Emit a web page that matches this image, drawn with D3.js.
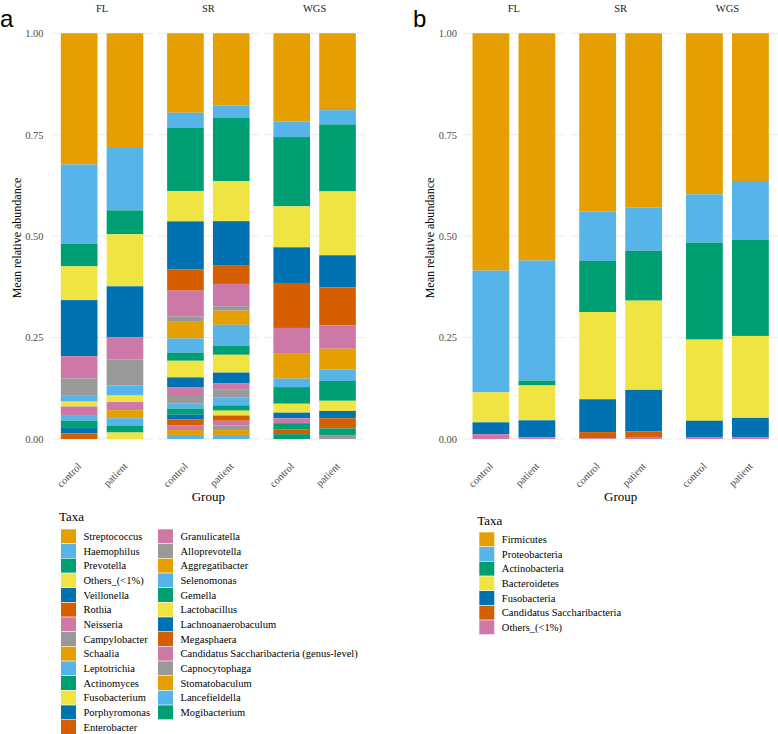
<!DOCTYPE html>
<html>
<head>
<meta charset="utf-8">
<script src="https://cdn.jsdelivr.net/npm/d3@7"></script>
<style>
body { margin: 0; background: #fff; }
svg text { font-family: "Liberation Serif", "DejaVu Serif", serif; }
svg text.tag { font-family: "Liberation Sans", "DejaVu Sans", sans-serif; }
</style>
</head>
<body>
<svg id="chart" width="778" height="734"></svg>
<script>
var facets = ["FL", "SR", "WGS"];
var groups = ["control", "patient"];
var yTicks = [0, 0.25, 0.5, 0.75, 1];
var palette = ["#E69F00", "#56B4E9", "#009E73", "#F0E442", "#0072B2", "#D55E00", "#CC79A7", "#999999"];

var genusTaxa = ["Streptococcus", "Haemophilus", "Prevotella", "Others_(<1%)", "Veillonella", "Rothia",
  "Neisseria", "Campylobacter", "Schaalia", "Leptotrichia", "Actinomyces", "Fusobacterium",
  "Porphyromonas", "Enterobacter", "Granulicatella", "Alloprevotella", "Aggregatibacter",
  "Selenomonas", "Gemella", "Lactobacillus", "Lachnoanaerobaculum", "Megasphaera",
  "Candidatus Saccharibacteria (genus-level)", "Capnocytophaga", "Stomatobaculum",
  "Lancefieldella", "Mogibacterium"];

// genus level, same order as genusTaxa
var genusFLcontrol  = [0.323, 0.195, 0.056, 0.083, 0.138, 0, 0.055, 0.041, 0, 0.016, 0, 0.012, 0, 0, 0.023, 0, 0, 0.012, 0.016, 0, 0.015, 0.014, 0, 0, 0, 0, 0];
var genusFLpatient  = [0.280, 0.156, 0.059, 0.128, 0.126, 0, 0.054, 0.064, 0, 0.025, 0, 0.016, 0, 0, 0.020, 0, 0.020, 0.019, 0.016, 0.016, 0, 0, 0, 0, 0, 0, 0];
var genusSRcontrol  = [0.196, 0.037, 0.156, 0.075, 0.118, 0.053, 0.064, 0.011, 0.043, 0.035, 0.020, 0.041, 0.025, 0, 0.021, 0.019, 0, 0.012, 0.015, 0, 0.012, 0.014, 0.012, 0, 0.012, 0.010, 0];
var genusSRpatient  = [0.178, 0.031, 0.156, 0.099, 0.110, 0.045, 0.055, 0.011, 0.035, 0.052, 0.022, 0.044, 0.026, 0, 0.015, 0.020, 0, 0.020, 0.013, 0.012, 0, 0.013, 0.012, 0.011, 0.012, 0.010, 0];
var genusWGScontrol = [0.218, 0.038, 0.171, 0.101, 0.088, 0.111, 0.062, 0, 0.063, 0.021, 0.041, 0.022, 0.014, 0, 0.012, 0, 0, 0, 0.015, 0, 0, 0.012, 0, 0, 0, 0, 0.012];
var genusWGSpatient = [0.189, 0.035, 0.165, 0.157, 0.079, 0.094, 0.057, 0, 0.051, 0.028, 0.049, 0.025, 0.018, 0.025, 0, 0, 0, 0, 0.016, 0, 0, 0, 0, 0.010, 0, 0, 0];

var phylumTaxa = ["Firmicutes", "Proteobacteria", "Actinobacteria", "Bacteroidetes", "Fusobacteria",
  "Candidatus Saccharibacteria", "Others_(<1%)"];

var phylumFLcontrol  = [0.585, 0.300, 0, 0.074, 0.029, 0, 0.012];
var phylumFLpatient  = [0.560, 0.296, 0.012, 0.086, 0.042, 0, 0.004];
var phylumSRcontrol  = [0.439, 0.122, 0.126, 0.215, 0.081, 0.015, 0.002];
var phylumSRpatient  = [0.429, 0.107, 0.123, 0.220, 0.102, 0.014, 0.005];
var phylumWGScontrol = [0.397, 0.119, 0.239, 0.200, 0.040, 0, 0.005];
var phylumWGSpatient = [0.364, 0.145, 0.237, 0.202, 0.047, 0, 0.005];

var genusBars = [["FL", "control", genusFLcontrol], ["FL", "patient", genusFLpatient],
  ["SR", "control", genusSRcontrol], ["SR", "patient", genusSRpatient],
  ["WGS", "control", genusWGScontrol], ["WGS", "patient", genusWGSpatient]];
var phylumBars = [["FL", "control", phylumFLcontrol], ["FL", "patient", phylumFLpatient],
  ["SR", "control", phylumSRcontrol], ["SR", "patient", phylumSRpatient],
  ["WGS", "control", phylumWGScontrol], ["WGS", "patient", phylumWGSpatient]];

function makeRows(taxa, bars) {
  return bars.map(function(b) {
    var r = { facet: b[0], group: b[1] };
    taxa.forEach(function(t, i) { r[t] = b[2][i]; });
    return r;
  });
}

var svg = d3.select("#chart");

function drawPanel(taxa, bars, o) {
  var rows = makeRows(taxa, bars);
  var color = d3.scaleOrdinal().domain(taxa).range(taxa.map(function(t, i) { return palette[i % 8]; }));
  var y = d3.scaleLinear().domain([0, 1]).range([439, 33.3]);
  var fx = d3.scaleBand().domain(facets).range([o.left, o.right]).paddingInner(0.052);
  var gx = d3.scalePoint().domain(groups).range([0, fx.bandwidth()]).padding(0.6);
  var bw = gx.step() * 0.8;
  var series = d3.stack().keys(taxa).order(d3.stackOrderReverse).offset(d3.stackOffsetExpand)(rows);

  var g = svg.append("g");

  // grid lines per facet
  facets.forEach(function(f) {
    g.selectAll(null).data(yTicks).enter().append("line")
      .attr("x1", fx(f)).attr("x2", fx(f) + fx.bandwidth())
      .attr("y1", y).attr("y2", y)
      .attr("stroke", "#ebebeb").attr("stroke-width", 1);
  });

  var ax = g.append("g").attr("transform", "translate(" + o.axisX + ",0)")
    .call(d3.axisLeft(y).tickValues(yTicks).tickFormat(d3.format(".2f")).tickSize(0).tickPadding(0));
  ax.attr("font-family", null).attr("font-size", null);
  ax.select(".domain").remove();
  ax.selectAll("text").attr("fill", "#4d4d4d").style("font-size", "10.5px");

  g.selectAll("g.layer").data(series).enter().append("g")
    .attr("class", "layer")
    .attr("fill", function(d) { return color(d.key); })
    .selectAll("rect").data(function(d) { return d; }).enter().append("rect")
    .attr("x", function(d) { return fx(d.data.facet) + gx(d.data.group) - bw / 2; })
    .attr("y", function(d) { return y(d[1]); })
    .attr("width", bw)
    .attr("height", function(d) { return y(d[0]) - y(d[1]); });

  // facet strip labels
  g.selectAll(null).data(facets).enter().append("text")
    .attr("x", function(f) { return fx(f) + fx.bandwidth() / 2; })
    .attr("y", 12)
    .attr("text-anchor", "middle")
    .attr("fill", "#1a1a1a")
    .style("font-size", "10.5px")
    .text(function(f) { return f; });

  // rotated group labels
  rows.forEach(function(r) {
    g.append("text")
      .attr("transform", "translate(" + (fx(r.facet) + gx(r.group) + 3) + ",467) rotate(-45)")
      .attr("text-anchor", "end")
      .attr("fill", "#4d4d4d")
      .style("font-size", "10.5px")
      .text(r.group);
  });

  g.append("text")
    .attr("x", (o.left + o.right) / 2).attr("y", 501)
    .attr("text-anchor", "middle")
    .style("font-size", "13px")
    .text("Group");

  g.append("text")
    .attr("transform", "translate(" + o.titleX + ",238) rotate(-90)")
    .attr("text-anchor", "middle")
    .attr("dy", "0.35em")
    .style("font-size", "12px")
    .text("Mean relative abundance");

  g.append("text")
    .attr("class", "tag")
    .attr("x", o.tagX).attr("y", 27)
    .style("font-size", "24px")
    .text(o.tag);

  // legend
  var lg = svg.append("g");
  lg.append("text").attr("x", o.legX[0] - 2).attr("y", o.legTitleY)
    .style("font-size", "13px").text("Taxa");
  var item = lg.selectAll("g.item").data(taxa).enter().append("g")
    .attr("transform", function(t, i) {
      var col = Math.floor(i / o.legRows), row = i % o.legRows;
      return "translate(" + o.legX[col] + "," + (o.legTop + row * 14.67) + ")";
    });
  item.append("rect").attr("width", 15).attr("height", 14)
    .attr("fill", function(t) { return color(t); });
  item.append("text").attr("x", 22.5).attr("y", 7).attr("dy", "0.35em")
    .style("font-size", "10.5px")
    .text(function(t) { return t; });
}

drawPanel(genusTaxa, genusBars, {
  left: 51.7, right: 365, axisX: 43.5, titleX: 16.7, tag: "a", tagX: 0,
  legX: [61, 158], legRows: 14, legTop: 529.3, legTitleY: 521
});
drawPanel(phylumTaxa, phylumBars, {
  left: 463.3, right: 778, axisX: 457, titleX: 430, tag: "b", tagX: 413,
  legX: [479.3], legRows: 7, legTop: 532.3, legTitleY: 525
});
</script>
</body>
</html>
